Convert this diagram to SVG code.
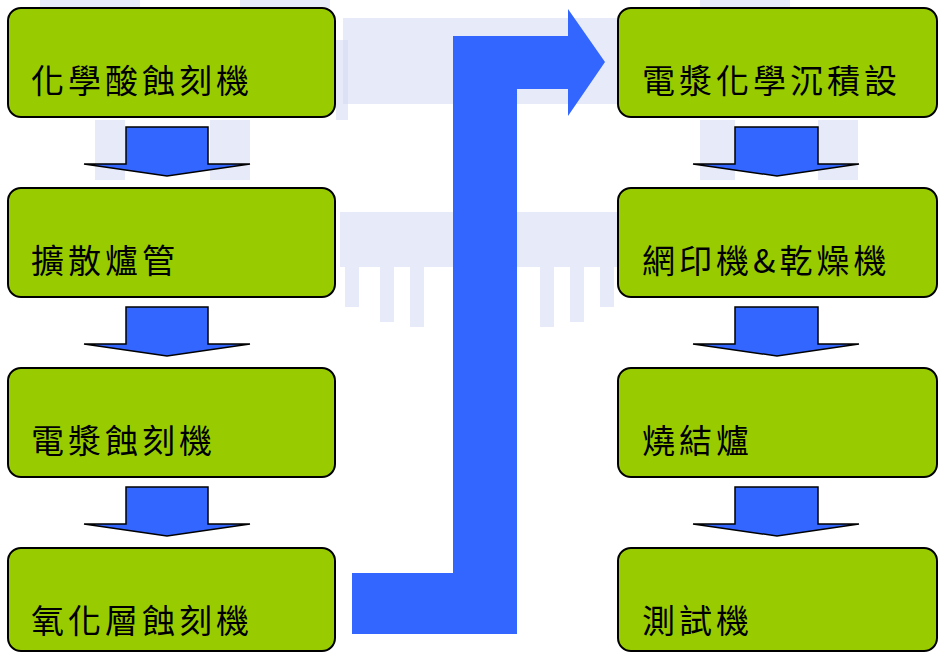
<svg xmlns="http://www.w3.org/2000/svg" width="938" height="652" viewBox="0 0 938 652">
<style>
.box{fill:#99cc00;stroke:#000;stroke-width:2}
.lbl{font-family:"Noto Sans CJK TC","Noto Sans CJK SC",sans-serif;font-size:33px;letter-spacing:4px;fill:#000}
.dn{fill:#3366ff;stroke:#000;stroke-width:1.5;stroke-linejoin:miter}
.wm{fill:#d3d8f3;opacity:0.55}
</style>
<rect width="938" height="652" fill="#fff"/>
<g id="watermark">
<rect class="wm" x="343" y="18" width="280" height="86"/>
<rect class="wm" x="340" y="212" width="300" height="55"/>
<rect class="wm" x="345" y="267" width="14" height="40"/>
<rect class="wm" x="380" y="267" width="14" height="55"/>
<rect class="wm" x="410" y="267" width="14" height="60"/>
<rect class="wm" x="540" y="267" width="14" height="60"/>
<rect class="wm" x="570" y="267" width="14" height="55"/>
<rect class="wm" x="600" y="267" width="14" height="40"/>
<rect class="wm" x="40" y="0" width="100" height="8"/>
<rect class="wm" x="240" y="0" width="90" height="8"/>
<rect class="wm" x="700" y="0" width="90" height="8"/>
<rect class="wm" x="95" y="120" width="30" height="60"/>
<rect class="wm" x="210" y="120" width="40" height="60"/>
<rect class="wm" x="700" y="120" width="35" height="60"/>
<rect class="wm" x="818" y="120" width="40" height="60"/>
<rect class="wm" x="336" y="40" width="12" height="80"/>
<rect class="wm" x="900" y="200" width="38" height="80"/>
</g>
<g id="connectors">
<polygon class="dn" points="126,127 208,127 208,164 250,164 167,176 84,164 126,164"/>
<polygon class="dn" points="126,307 208,307 208,344 250,344 167,356 84,344 126,344"/>
<polygon class="dn" points="126,487 208,487 208,524 250,524 167,536 84,524 126,524"/>
<polygon class="dn" points="735,127 818,127 818,164 859,164 777,176 693,164 735,164"/>
<polygon class="dn" points="735,307 818,307 818,344 859,344 777,356 693,344 735,344"/>
<polygon class="dn" points="735,487 818,487 818,524 859,524 777,536 693,524 735,524"/>
<polygon fill="#3366ff" points="352,573 453,573 453,36 568,36 568,9 605,62 568,116 568,89 517,89 517,634 352,634"/>
</g>
<g id="n1"><rect class="box" x="8" y="8" width="327" height="109" rx="13"/><text class="lbl" x="31" y="93">化學酸蝕刻機</text></g>
<g id="n2"><rect class="box" x="8" y="188" width="327" height="109" rx="13"/><text class="lbl" x="31" y="273">擴散爐管</text></g>
<g id="n3"><rect class="box" x="8" y="368" width="327" height="109" rx="13"/><text class="lbl" x="31" y="453">電漿蝕刻機</text></g>
<g id="n4"><rect class="box" x="8" y="548" width="327" height="103" rx="13"/><text class="lbl" x="31" y="633">氧化層蝕刻機</text></g>
<g id="n5"><rect class="box" x="618" y="8" width="319" height="109" rx="13"/><text class="lbl" x="642" y="93">電漿化學沉積設</text></g>
<g id="n6"><rect class="box" x="618" y="188" width="319" height="109" rx="13"/><text class="lbl" x="642" y="273">網印機&amp;乾燥機</text></g>
<g id="n7"><rect class="box" x="618" y="368" width="319" height="109" rx="13"/><text class="lbl" x="642" y="453">燒結爐</text></g>
<g id="n8"><rect class="box" x="618" y="548" width="319" height="103" rx="13"/><text class="lbl" x="642" y="633">測試機</text></g>
</svg>
